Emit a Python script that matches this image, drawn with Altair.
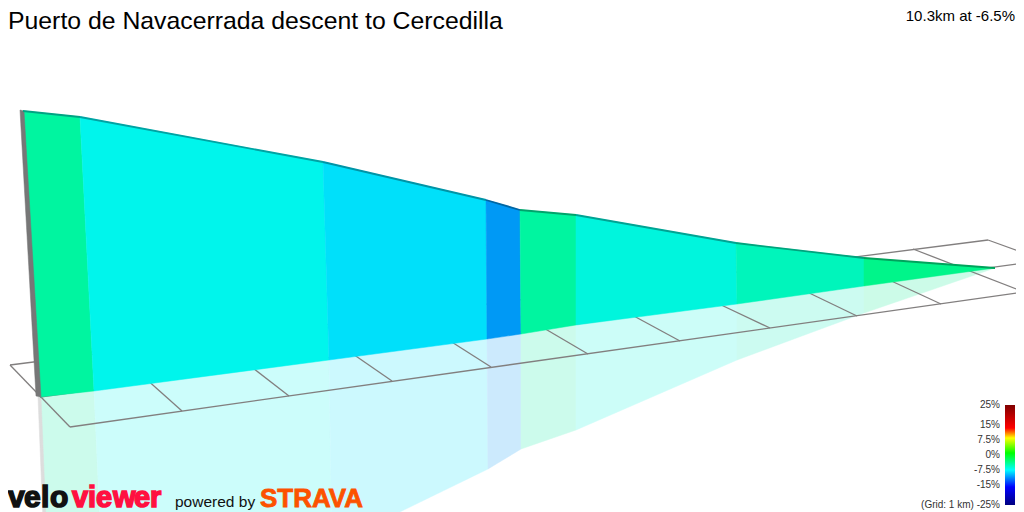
import altair as alt

W, H = 1008, 504
TITLE = "Puerto de Navacerrada descent to Cercedilla"
SUBTITLE = "10.3km at -6.5%"

# profile vertices, segment by segment
top_x = [23, 80, 323, 486, 520, 576, 736, 864, 995]
top_y = [111, 117, 162, 200, 210, 215, 243, 258, 268]
base_x = [40, 94, 329, 487, 521, 576, 737, 864, 995]
base_y = [397, 391, 360, 339, 334, 325, 304, 286, 268]
seg_colors = ["#00f5a0", "#00f5ec", "#00e0fa", "#0099f5", "#00f5a0", "#00f5dd", "#00f5bb", "#00f58a"]
edge_colors = ["#00a383", "#00a3a3", "#0094a6", "#0066a3", "#00a36b", "#00a393", "#00a37d", "#00a35c"]
# shadow on the ground
shadow_x = [46, 101, 332, 488, 521, 576, 737, 864, 995]
shadow_y = [545, 545, 545, 469, 449, 430, 360, 313, 268]
shadow_colors = ["#ccfbec", "#ccfdfb", "#ccf9fe", "#cceafd", "#ccfbec", "#ccfdf8", "#ccfbf1", "#ccfbe8"]

# grid lines
grid_x1 = [10, 10, 70, 182, 289, 392, 491, 588, 680, 770, 857, 941, 1024, 988, 40]
grid_y1 = [365, 365, 427, 411, 396, 381, 367, 354, 341, 328, 316, 304, 292, 240, 397]
grid_x2 = [70, 988, 1024, 145, 249, 350, 447, 542, 632, 717, 803, 887, 913, 1024, 1024]
grid_y2 = [427, 240, 292, 378, 365, 352, 339, 327, 315, 303, 290, 279, 249, 253, 263]

# wall
wall_x = [20, 24, 41, 36]
wall_y = [110, 111, 397, 396]
wall_shadow_x = [38, 41, 47, 44]
wall_shadow_y = [397, 397, 545, 545]

# legend
legend_labels = ["25%", "15%", "7.5%", "0%", "-7.5%", "-15%", "(Grid: 1 km) -25%"]
legend_y = [405, 425, 440, 455, 470, 485, 505]
ramp_offsets = [0, 0.23, 0.33, 0.48, 0.65, 0.82, 1]
ramp_colors = ["#7f0000", "#ff0000", "#ffff00", "#00ff00", "#00ffff", "#0000ff", "#00007f"]

# logo letters
velo_letters = list("velo")
velo_x = [8, 24, 41, 50]
viewer_letters = list("viewer")
viewer_x = [72, 88, 96, 113, 134, 150]

xs = alt.Scale(domain=[8, 8 + W], range=[0, W], nice=False, zero=False)
ys = alt.Scale(domain=[8, 8 + H], range=[0, H], nice=False, zero=False)
X = lambda f: alt.X(f, type="quantitative", scale=xs, axis=None)
Y = lambda f: alt.Y(f, type="quantitative", scale=ys, axis=None)
proj = alt.Projection(type="identity", scale=1, translate=[-8, -8])


def feat(pts, color):
    ring = [[float(a), float(b)] for a, b in pts] + [[float(pts[0][0]), float(pts[0][1])]]
    return {"type": "Feature", "properties": {"c": color},
            "geometry": {"type": "Polygon", "coordinates": [ring]}}


def polys(features):
    return alt.Chart(alt.InlineData(values=features, format=alt.DataFormat(type="json"))).mark_geoshape(
        strokeWidth=0.5, clip=True).encode(
        fill=alt.Fill("properties.c:N", scale=None),
        stroke=alt.Stroke("properties.c:N", scale=None),
    ).project(**proj.to_dict())


n = len(seg_colors)
shadow_feats = [feat([(base_x[i], base_y[i]), (base_x[i+1], base_y[i+1]), (shadow_x[i+1], shadow_y[i+1]), (shadow_x[i], shadow_y[i])], shadow_colors[i]) for i in range(n)]
shadow_feats.append(feat(list(zip(wall_shadow_x, wall_shadow_y)), "#dddddd"))
seg_feats = [feat([(top_x[i], top_y[i]), (top_x[i+1], top_y[i+1]), (base_x[i+1], base_y[i+1]), (base_x[i], base_y[i])], seg_colors[i]) for i in range(n)]
seg_feats.append(feat(list(zip(wall_x, wall_y)), "#777777"))

grid = alt.Chart(alt.Data(values=[
    {"x": a, "y": b, "x2": c, "y2": d} for a, b, c, d in zip(grid_x1, grid_y1, grid_x2, grid_y2)
])).mark_rule(color="#827f7f", strokeWidth=1.3, clip=True).encode(X("x"), Y("y"), x2="x2:Q", y2="y2:Q")

edges = alt.Chart(alt.Data(values=[
    {"x": top_x[i], "y": top_y[i], "x2": top_x[i+1], "y2": top_y[i+1], "c": edge_colors[i]} for i in range(n)
])).mark_rule(strokeWidth=1.8).encode(X("x"), Y("y"), x2="x2:Q", y2="y2:Q", color=alt.Color("c:N", scale=None))


def text(vals, **kw):
    return alt.Chart(alt.Data(values=vals)).mark_text(font="Liberation Sans", **kw).encode(
        X("x"), Y("y"), text="t:N")


title = text([{"x": 8, "y": 22, "t": TITLE}], fontSize=24.8, align="left", baseline="middle", color="#000000")
sub = text([{"x": 1015, "y": 16, "t": SUBTITLE}], fontSize=15, align="right", baseline="middle", color="#000000")
leg = text([{"x": 1000, "y": y, "t": t} for t, y in zip(legend_labels, legend_y)],
           fontSize=10, align="right", baseline="middle", color="#333333")
ramp = alt.Chart(alt.Data(values=[{"x": 1005, "x2": 1015, "y": 405, "y2": 505}])).mark_rect(
    color=alt.Gradient(gradient="linear", x1=0, x2=0, y1=0, y2=1,
                       stops=[alt.GradientStop(offset=o, color=c) for o, c in zip(ramp_offsets, ramp_colors)])
).encode(X("x"), Y("y"), x2="x2:Q", y2="y2:Q")

velo = text([{"x": x, "y": 507, "t": t} for t, x in zip(velo_letters, velo_x)],
            fontSize=30, fontWeight="bold", align="left", baseline="alphabetic", color="#111111",
            stroke="#111111", strokeWidth=1.5)
viewer = text([{"x": x, "y": 507, "t": t} for t, x in zip(viewer_letters, viewer_x)],
              fontSize=29, fontWeight="bold", align="left", baseline="alphabetic", color="#ff1040",
              stroke="#ff1040", strokeWidth=1.5)
powered = text([{"x": 175, "y": 507, "t": "powered by"}], fontSize=15.5, align="left", baseline="alphabetic", color="#111111")
strava = text([{"x": 260, "y": 506.5, "t": "STRAVA"}], fontSize=26, fontWeight="bold", align="left", baseline="alphabetic", color="#fc5200",
              stroke="#fc5200", strokeWidth=0.8)

chart = alt.layer(
    polys(shadow_feats), grid, polys(seg_feats), edges,
    title, sub, leg, ramp, velo, viewer, powered, strava,
).properties(width=W, height=H, padding=0, autosize=alt.AutoSizeParams(type="none")).configure_view(stroke=None)

chart.save("out.html", embed_options={"renderer": "svg", "actions": False})
